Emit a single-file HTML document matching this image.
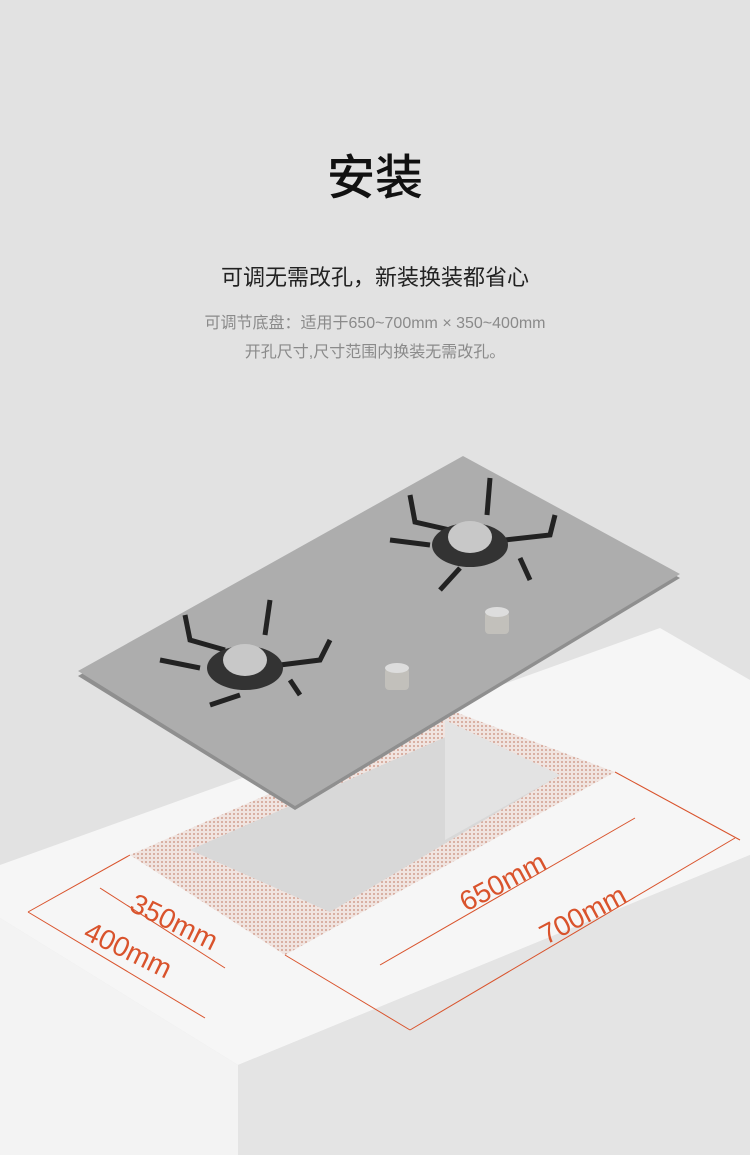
<!DOCTYPE html>
<html><head><meta charset="utf-8"><style>
html,body{margin:0;padding:0;}
body{width:750px;height:1155px;background:#e2e2e2;position:relative;overflow:hidden;font-family:"Liberation Sans","Noto Sans CJK SC",sans-serif;}
.t{position:absolute;left:0;width:750px;text-align:center;}
</style></head><body>
<div class="t" style="top:138px;font-size:48px;color:#111;font-weight:500;">安装</div>
<div class="t" style="top:260px;font-size:22px;color:#222;">可调无需改孔，新装换装都省心</div>
<div class="t" style="top:309px;font-size:16px;color:#8a8a8a;">可调节底盘：适用于650~700mm × 350~400mm</div>
<div class="t" style="top:338px;font-size:16px;color:#8a8a8a;">开孔尺寸,尺寸范围内换装无需改孔。</div>
<svg width="750" height="1155" style="position:absolute;left:0;top:0">
<defs>
<pattern id="dots" width="4" height="4" patternUnits="userSpaceOnUse"><rect width="4" height="4" fill="#f0e4e0"/><circle cx="2" cy="2" r="0.9" fill="#c98b78"/></pattern>
</defs>
<polygon points="0,865 660,628 750,680 750,855 238,1065 0,918" fill="#f6f6f6"/>
<polygon points="0,918 238,1065 238,1155 0,1155" fill="#f3f3f3"/>
<polygon points="238,1065 750,855 750,1155 238,1155" fill="#e4e4e4"/>
<polygon points="130,855 455,712 615,772 285,955" fill="url(#dots)"/>
<polygon points="190,850 450,735 560,775 330,912" fill="#d8d8d8"/>
<polygon points="445,720 560,775 445,840" fill="#e3e3e3"/>
<g stroke="#d9532c" stroke-width="1" fill="none">
<line x1="130" y1="855" x2="28" y2="912"/>
<line x1="28" y1="912" x2="205" y2="1018"/>
<line x1="100" y1="888" x2="225" y2="968"/>
<line x1="380" y1="965" x2="635" y2="818"/>
<line x1="410" y1="1030" x2="735" y2="838"/>
<line x1="285" y1="955" x2="410" y2="1030"/>
<line x1="615" y1="772" x2="740" y2="840"/>
</g>
<g fill="#d9532c" font-size="28" font-family="Liberation Sans,sans-serif">
<text transform="translate(128,910) rotate(26)">350mm</text>
<text transform="translate(82,938) rotate(26)">400mm</text>
<text transform="translate(466,912) rotate(-28)">650mm</text>
<text transform="translate(546,945) rotate(-28)">700mm</text>
</g>
<polygon points="78,676 295,810 680,578 465,458" fill="#8f8f8f"/>
<polygon points="78,671 463,456 680,574 295,806" fill="#adadad"/>
<g stroke="#222" stroke-width="5" fill="none">
<path d="M185,615 L190,640 L225,650 M270,600 L265,635 M330,640 L320,660 L280,665 M160,660 L200,668 M210,705 L240,695 M300,695 L290,680"/>
<path d="M410,495 L415,522 L450,530 M490,478 L487,515 M555,515 L550,535 L505,540 M390,540 L430,545 M440,590 L460,568 M530,580 L520,558"/>
</g>
<ellipse cx="245" cy="668" rx="38" ry="22" fill="#333"/>
<ellipse cx="245" cy="660" rx="22" ry="16" fill="#c8c8c8"/>
<ellipse cx="470" cy="545" rx="38" ry="22" fill="#333"/>
<ellipse cx="470" cy="537" rx="22" ry="16" fill="#c8c8c8"/>
<rect x="385" y="668" width="24" height="22" rx="4" fill="#c2c0bb"/>
<ellipse cx="397" cy="668" rx="12" ry="5" fill="#ddd"/>
<rect x="485" y="612" width="24" height="22" rx="4" fill="#c2c0bb"/>
<ellipse cx="497" cy="612" rx="12" ry="5" fill="#ddd"/>
</svg>
</body></html>
